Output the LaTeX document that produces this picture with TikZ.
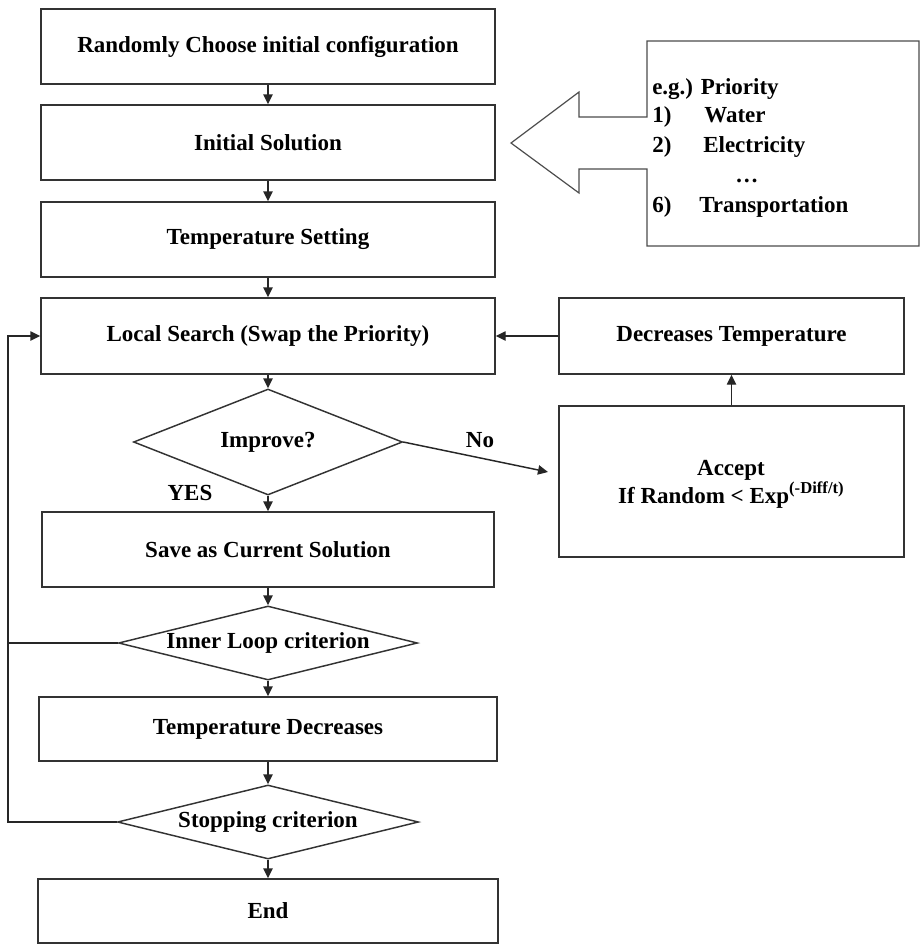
\documentclass[tikz,border=0pt]{standalone}
\usepackage{fontspec}
\setmainfont{Liberation Serif}
\usetikzlibrary{shapes.geometric,arrows.meta}
\begin{document}
\begin{tikzpicture}[x=0.75pt,y=-0.75pt,
  every node/.style={font=\fontsize{17.25}{21}\selectfont\bfseries},
  box/.style={draw=black!80,line width=1.1pt,rectangle,inner sep=0pt},
  dia/.style={draw=black!80,line width=1.1pt,diamond,inner sep=0pt},
  arr/.style={draw=black!85,line width=1.1pt,-{Triangle[length=7.5pt,width=7pt]}},
  ln/.style={draw=black!85,line width=1.1pt},
  txt/.style={anchor=base west,inner sep=0pt}]
\useasboundingbox (0,0) rectangle (922,951);

% main column
\node[box,minimum width=340.5pt,minimum height=56.25pt] (b1) at (268,46.5) {Randomly Choose initial configuration};
\node[box,minimum width=340.5pt,minimum height=56.25pt] (b2) at (268,142.5) {Initial Solution};
\node[box,minimum width=340.5pt,minimum height=56.25pt] (b3) at (268,239.5) {Temperature Setting};
\node[box,minimum width=340.5pt,minimum height=57pt] (ls) at (268,336) {Local Search (Swap the Priority)};
\node[dia,minimum width=201.75pt,minimum height=79.5pt] (imp) at (268,442) {\makebox[0pt]{Improve?}};
\node[box,minimum width=339pt,minimum height=56.25pt] (sv) at (268,549.5) {Save as Current Solution};
\node[dia,minimum width=224.25pt,minimum height=55.5pt] (inl) at (268,643) {\makebox[0pt]{Inner Loop criterion}};
\node[box,minimum width=343.5pt,minimum height=48pt] (td) at (268,729) {Temperature Decreases};
\node[dia,minimum width=225.75pt,minimum height=55.5pt] (stp) at (268,822) {\makebox[0pt]{Stopping criterion}};
\node[box,minimum width=345pt,minimum height=48pt] (en) at (268,911) {End};

% right column
\node[box,minimum width=258.75pt,minimum height=57pt] (dec) at (731.5,336) {Decreases Temperature};
\node[box,minimum width=258.75pt,minimum height=113.25pt] (acc) at (731.5,481.5) {};
\node[align=center,inner sep=0pt] (acct) at (731,484) {Accept\\If Random < Exp\raisebox{0.42em}{\fontsize{12.5}{14}\selectfont (-Diff/t)}};

% labels
\node[inner sep=0pt] (no) at (480,440) {No};
\node[inner sep=0pt] (yes) at (190,493) {YES};

% connectors
\draw[arr] (b1) -- (b2);
\draw[arr] (b2) -- (b3);
\draw[arr] (b3) -- (ls);
\draw[arr] (ls) -- (imp);
\draw[arr] (imp) -- (sv);
\draw[arr] (sv) -- (inl);
\draw[arr] (inl) -- (td);
\draw[arr] (td) -- (stp);
\draw[arr] (stp) -- (en);
\coordinate (noend) at (548,472);
\draw[arr] (imp.east) -- (noend);
\draw[arr] (acc.north) -- (dec.south);
\draw[arr] (dec.west) -- (ls.east);
\coordinate (lp) at (8,336);
\draw[arr] (inl.west) -| (lp) -- (ls.west);
\draw[ln] (stp.west) -| (lp);

% callout box with big arrow
\draw[draw=black!70,line width=0.9pt,line join=miter]
  (647,41) -- (919,41) -- (919,246) -- (647,246) -- (647,169) -- (579,169)
  -- (579,193) -- (511,143) -- (579,92) -- (579,117) -- (647,117) -- cycle;
\node[txt] (eg0) at (652,94) {e.g.) Priority};
\node[txt] (eg1) at (652,122) {1)};
\node[txt] (eg1w) at (704,122) {Water};
\node[txt] (eg2) at (652,152) {2)};
\node[txt] (eg2w) at (703,152) {Electricity};
\node[txt] (egd) at (735,182) {\dots};
\node[txt] (eg6) at (652,212) {6)};
\node[txt] (eg6w) at (699,212) {Transportation};
\end{tikzpicture}
\end{document}
